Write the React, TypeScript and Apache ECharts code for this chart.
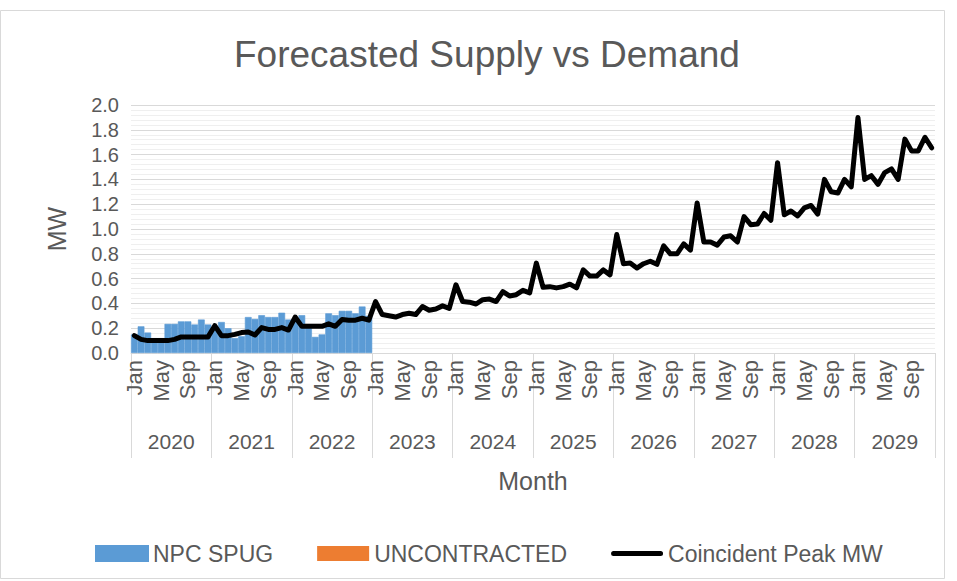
import React, { useEffect, useRef } from "react";
import * as echarts from "echarts";

const years = ["2020", "2021", "2022", "2023", "2024", "2025", "2026", "2027", "2028", "2029"];
const monthNames = ["Jan", "Feb", "Mar", "Apr", "May", "Jun", "Jul", "Aug", "Sep", "Oct", "Nov", "Dec"];
const months: string[] = [];
years.forEach((y) => monthNames.forEach((m) => months.push(m)));

const npcSpug = [
  0.15, 0.215, 0.165, 0.12, 0.12, 0.235, 0.235, 0.255, 0.255, 0.23, 0.27, 0.23,
  0.2, 0.25, 0.2, 0.12, 0.135, 0.29, 0.275, 0.305, 0.29, 0.29, 0.325, 0.27,
  0.28, 0.305, 0.22, 0.13, 0.15, 0.32, 0.305, 0.34, 0.34, 0.32, 0.375, 0.3,
];

const uncontracted: (number | null)[] = [];

const coincidentPeak = [
  0.14, 0.11, 0.1, 0.1, 0.1, 0.1, 0.11, 0.13, 0.13, 0.13, 0.13, 0.13,
  0.22, 0.14, 0.14, 0.15, 0.165, 0.17, 0.145, 0.205, 0.19, 0.19, 0.205, 0.185,
  0.29, 0.215, 0.215, 0.215, 0.215, 0.235, 0.215, 0.27, 0.265, 0.265, 0.28, 0.265,
  0.415, 0.31, 0.3, 0.29, 0.31, 0.32, 0.31, 0.375, 0.345, 0.355, 0.38, 0.36,
  0.55, 0.415, 0.41, 0.395, 0.43, 0.435, 0.415, 0.495, 0.46, 0.47, 0.505, 0.485,
  0.725, 0.53, 0.535, 0.525, 0.535, 0.555, 0.525, 0.67, 0.62, 0.62, 0.67, 0.63,
  0.955, 0.72, 0.725, 0.685, 0.72, 0.74, 0.715, 0.865, 0.8, 0.8, 0.88, 0.83,
  1.21, 0.895, 0.895, 0.87, 0.935, 0.945, 0.895, 1.1, 1.035, 1.04, 1.125, 1.07,
  1.535, 1.115, 1.145, 1.105, 1.17, 1.19, 1.12, 1.4, 1.3, 1.29, 1.4, 1.34,
  1.9, 1.4, 1.43, 1.36, 1.455, 1.485, 1.4, 1.725, 1.63, 1.63, 1.74, 1.655,
];

const FONT = "'Liberation Sans', Arial, sans-serif";
const TXT = "#595959";
const LINE_ICON = "path://M0,0L0.01,0M0,15L0.01,15M2.5,5H49.5A2.5,2.5,0,0,1,49.5,10H2.5A2.5,2.5,0,0,1,2.5,5Z";

export default function App() {
  const ref = useRef<HTMLDivElement>(null);
  useEffect(() => {
    if (!ref.current) return;
    const chart = echarts.init(ref.current, null, { renderer: "svg" });
    chart.setOption({
      animation: false,
      backgroundColor: "#ffffff",
      textStyle: { fontFamily: FONT, color: TXT },
      title: {
        text: "Forecasted Supply vs Demand",
        left: 229,
        top: 31,
        textStyle: { fontFamily: FONT, fontSize: 37, fontWeight: "normal", color: TXT },
      },
      graphic: [
        {
          type: "rect",
          shape: { x: 0.5, y: 10.5, width: 944, height: 568 },
          style: { fill: "none", stroke: "#d9d9d9", lineWidth: 1 },
          silent: true,
        },
      ],
      legend: {
        left: 90,
        top: 537,
        itemWidth: 52,
        itemHeight: 15,
        itemGap: 44,
        textStyle: { fontFamily: FONT, fontSize: 23, color: TXT },
        data: [
          { name: "NPC SPUG", icon: "rect" },
          { name: "UNCONTRACTED", icon: "rect" },
          { name: "Coincident Peak MW", icon: LINE_ICON, itemStyle: { color: "#000000" } },
        ],
      },
      grid: { left: 131, right: 22, top: 105, bottom: 228 },
      xAxis: [
        {
          type: "category",
          data: months,
          boundaryGap: true,
          axisLine: { show: true, lineStyle: { color: "#d9d9d9", width: 1 } },
          axisTick: { show: false },
          axisLabel: {
            interval: 3,
            rotate: 90,
            margin: 7,
            fontFamily: FONT,
            fontSize: 22,
            color: TXT,
          },
        },
        {
          type: "category",
          data: years,
          position: "bottom",
          boundaryGap: true,
          axisLine: { show: false },
          axisTick: {
            show: true,
            interval: 0,
            length: 105,
            lineStyle: { color: "#d9d9d9", width: 1 },
          },
          axisLabel: { interval: 0, margin: 78, fontFamily: FONT, fontSize: 21, color: TXT },
          name: "Month",
          nameLocation: "middle",
          nameGap: 115,
          nameTextStyle: { fontFamily: FONT, fontSize: 25, color: TXT },
        },
      ],
      yAxis: {
        type: "value",
        min: 0,
        max: 2,
        interval: 0.2,
        name: "MW",
        nameLocation: "middle",
        nameGap: 62,
        nameTextStyle: { fontFamily: FONT, fontSize: 25, color: TXT },
        axisLine: { show: false },
        axisTick: { show: false },
        axisLabel: {
          formatter: (v: number) => v.toFixed(1),
          fontFamily: FONT,
          fontSize: 20,
          color: TXT,
          margin: 12,
        },
        splitLine: { show: true, lineStyle: { color: "#d9d9d9", width: 1 } },
        minorTick: { show: false, splitNumber: 5 },
        minorSplitLine: { show: true, lineStyle: { color: "#efefef", width: 1 } },
      },
      series: [
        {
          name: "NPC SPUG",
          type: "bar",
          stack: "supply",
          data: npcSpug,
          barCategoryGap: "0%",
          itemStyle: { color: "#5b9bd5", borderColor: "#5b9bd5", borderWidth: 0.6 },
        },
        {
          name: "UNCONTRACTED",
          type: "bar",
          stack: "supply",
          data: uncontracted,
          barCategoryGap: "0%",
          itemStyle: { color: "#ed7d31" },
        },
        {
          name: "Coincident Peak MW",
          type: "line",
          data: coincidentPeak,
          symbol: "none",
          lineStyle: { color: "#000000", width: 5, cap: "round", join: "round" },
          itemStyle: { color: "#000000" },
          z: 5,
        },
      ],
    });
    return () => chart.dispose();
  }, []);
  return (
    <div
      ref={ref}
      style={{ position: "fixed", left: 0, top: 0, width: 957, height: 581 }}
    />
  );
}
